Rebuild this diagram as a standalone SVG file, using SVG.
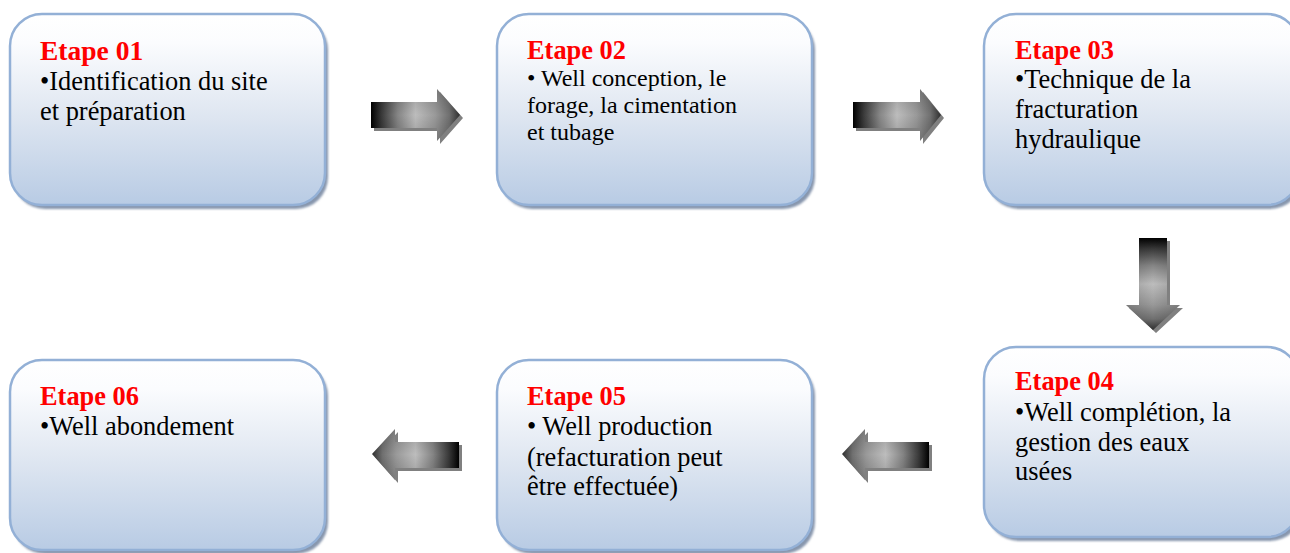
<svg xmlns="http://www.w3.org/2000/svg" width="1290" height="553" viewBox="0 0 1290 553">
<defs>
<linearGradient id="boxFill" x1="0" y1="0" x2="0" y2="1">
<stop offset="0" stop-color="#ffffff"/>
<stop offset="0.15" stop-color="#fbfcfe"/>
<stop offset="0.5" stop-color="#e1e8f2"/>
<stop offset="1" stop-color="#b8cbe4"/>
</linearGradient>
<linearGradient id="arrR" x1="0" y1="0" x2="1" y2="0">
<stop offset="0" stop-color="#000000"/>
<stop offset="0.12" stop-color="#3a3a3a"/>
<stop offset="0.3" stop-color="#858585"/>
<stop offset="0.5" stop-color="#bdbdbd"/>
<stop offset="0.72" stop-color="#9a9a9a"/>
<stop offset="0.88" stop-color="#707070"/>
<stop offset="1" stop-color="#2e2e2e"/>
</linearGradient>
<linearGradient id="arrL" x1="1" y1="0" x2="0" y2="0">
<stop offset="0" stop-color="#000000"/>
<stop offset="0.12" stop-color="#3a3a3a"/>
<stop offset="0.3" stop-color="#858585"/>
<stop offset="0.5" stop-color="#bdbdbd"/>
<stop offset="0.72" stop-color="#9a9a9a"/>
<stop offset="0.88" stop-color="#707070"/>
<stop offset="1" stop-color="#2e2e2e"/>
</linearGradient>
<linearGradient id="arrD" x1="0" y1="0" x2="0" y2="1">
<stop offset="0" stop-color="#000000"/>
<stop offset="0.12" stop-color="#3a3a3a"/>
<stop offset="0.3" stop-color="#858585"/>
<stop offset="0.5" stop-color="#bdbdbd"/>
<stop offset="0.72" stop-color="#9a9a9a"/>
<stop offset="0.88" stop-color="#707070"/>
<stop offset="1" stop-color="#2e2e2e"/>
</linearGradient>
<linearGradient id="shadeV" x1="0" y1="0" x2="0" y2="1">
<stop offset="0" stop-color="#000" stop-opacity="0.18"/>
<stop offset="0.5" stop-color="#000" stop-opacity="0"/>
<stop offset="1" stop-color="#000" stop-opacity="0.18"/>
</linearGradient>
<linearGradient id="shadeH" x1="0" y1="0" x2="1" y2="0">
<stop offset="0" stop-color="#000" stop-opacity="0.18"/>
<stop offset="0.5" stop-color="#000" stop-opacity="0"/>
<stop offset="1" stop-color="#000" stop-opacity="0.18"/>
</linearGradient>
<filter id="blur" x="-5%" y="-5%" width="110%" height="110%"><feGaussianBlur stdDeviation="1.2"/></filter>
</defs>
<style>
.shadow{fill:#8796ad;filter:url(#blur)}
.box{fill:url(#boxFill);stroke:#93b0d6;stroke-width:2.5}
.t{font-family:"Liberation Serif","Times New Roman",serif;fill:#000;font-size:26.4px}
.h{font-family:"Liberation Serif","Times New Roman",serif;fill:#ff0000;font-weight:bold;font-size:26.4px}
.ash{fill:#808080}
</style>

<g id="connectors">
<g id="arrow-1-2">
<path class="ash" d="M374,105 H440 V92 L463,118 L440,144 V131 H374 Z"/>
<path fill="url(#arrR)" d="M371,102 H437 V89 L460,115 L437,141 V128 H371 Z"/>
<path fill="url(#shadeV)" d="M371,102 H437 V89 L460,115 L437,141 V128 H371 Z"/>
</g>
<g id="arrow-2-3">
<path class="ash" d="M856,105 H923 V92 L944,118 L923,144 V131 H856 Z"/>
<path fill="url(#arrR)" d="M853,102 H920 V89 L941,115 L920,141 V128 H853 Z"/>
<path fill="url(#shadeV)" d="M853,102 H920 V89 L941,115 L920,141 V128 H853 Z"/>
</g>
<g id="arrow-3-4">
<path class="ash" d="M1142,241 H1170 V308 H1183 L1156,333 L1129,308 H1142 Z"/>
<path fill="url(#arrD)" d="M1139,238 H1167 V305 H1180 L1153,330 L1126,305 H1139 Z"/>
<path fill="url(#shadeH)" d="M1139,238 H1167 V305 H1180 L1153,330 L1126,305 H1139 Z"/>
</g>
<g id="arrow-4-5">
<path class="ash" d="M932,445 H868 V432 L845,457 L868,483 V471 H932 Z"/>
<path fill="url(#arrL)" d="M929,442 H865 V429 L842,454 L865,480 V468 H929 Z"/>
<path fill="url(#shadeV)" d="M929,442 H865 V429 L842,454 L865,480 V468 H929 Z"/>
</g>
<g id="arrow-5-6">
<path class="ash" d="M462,445 H398 V432 L375,457 L398,483 V471 H462 Z"/>
<path fill="url(#arrL)" d="M459,442 H395 V429 L372,454 L395,480 V468 H459 Z"/>
<path fill="url(#shadeV)" d="M459,442 H395 V429 L372,454 L395,480 V468 H459 Z"/>
</g>
</g>

<g id="etape01">
<rect class="shadow" x="13" y="18" width="315" height="191" rx="32"/>
<rect class="box" x="10" y="14" width="315" height="191" rx="32"/>
<text class="h" x="40" y="60" style="font-size:27.5px">Etape 01</text>
<text class="t" x="40" y="90">•Identification du site</text>
<text class="t" x="40" y="120">et préparation</text>
</g>

<g id="etape02">
<rect class="shadow" x="500" y="18" width="315" height="191" rx="32"/>
<rect class="box" x="497" y="14" width="315" height="191" rx="32"/>
<text class="h" x="527" y="59">Etape 02</text>
<text class="t" x="527" y="86" style="font-size:24px">• Well conception, le</text>
<text class="t" x="527" y="113" style="font-size:24px">forage, la cimentation</text>
<text class="t" x="527" y="140" style="font-size:24px">et tubage</text>
</g>

<g id="etape03">
<rect class="shadow" x="987" y="18" width="315" height="191" rx="32"/>
<rect class="box" x="984" y="14" width="315" height="191" rx="32"/>
<text class="h" x="1015" y="59">Etape 03</text>
<text class="t" x="1015" y="88">•Technique de la</text>
<text class="t" x="1015" y="118">fracturation</text>
<text class="t" x="1015" y="148">hydraulique</text>
</g>

<g id="etape04">
<rect class="shadow" x="987" y="351" width="315" height="190" rx="32"/>
<rect class="box" x="984" y="347" width="315" height="190" rx="32"/>
<text class="h" x="1015" y="390">Etape 04</text>
<text class="t" x="1015" y="421">•Well complétion, la</text>
<text class="t" x="1015" y="451">gestion des eaux</text>
<text class="t" x="1015" y="480">usées</text>
</g>

<g id="etape05">
<rect class="shadow" x="500" y="364" width="315" height="190" rx="32"/>
<rect class="box" x="497" y="360" width="315" height="190" rx="32"/>
<text class="h" x="527" y="405">Etape 05</text>
<text class="t" x="527" y="435">• Well production</text>
<text class="t" x="527" y="466">(refacturation peut</text>
<text class="t" x="527" y="495">être effectuée)</text>
</g>

<g id="etape06">
<rect class="shadow" x="13" y="364" width="315" height="190" rx="32"/>
<rect class="box" x="10" y="360" width="315" height="190" rx="32"/>
<text class="h" x="40" y="405">Etape 06</text>
<text class="t" x="40" y="435">•Well abondement</text>
</g>
</svg>
